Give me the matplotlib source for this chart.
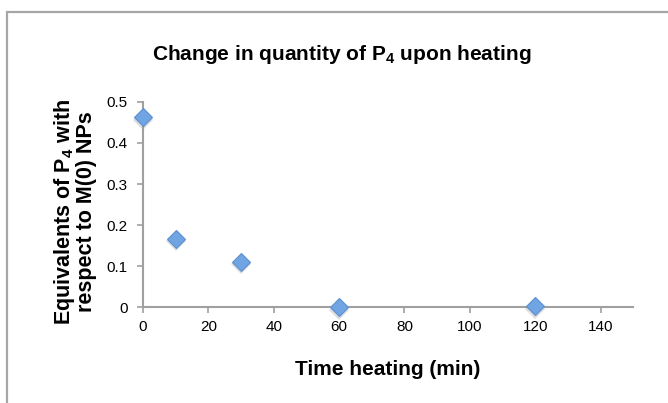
import matplotlib
matplotlib.use('Agg')
import matplotlib.pyplot as plt
from matplotlib.patches import Rectangle

# data
time_min = [0, 10, 30, 60, 120]
equiv_p4 = [0.463, 0.166, 0.110, 0.0, 0.002]
x_ticks = [0, 20, 40, 60, 80, 100, 120, 140]
y_ticks = [0, 0.1, 0.2, 0.3, 0.4, 0.5]
y_tick_labels = ['0', '0.1', '0.2', '0.3', '0.4', '0.5']

plt.rcParams['font.family'] = ['Liberation Sans', 'DejaVu Sans']
plt.rcParams['mathtext.fontset'] = 'custom'
plt.rcParams['mathtext.rm'] = 'Liberation Sans:bold'
plt.rcParams['mathtext.default'] = 'rm'

fig = plt.figure(figsize=(6.68, 4.03), dpi=100)

# outer chart frame (cut off at right/bottom)
frame = Rectangle((0.0105, -0.1), 1.2, 1.07, transform=fig.transFigure,
                  fill=False, edgecolor='#a6a6a6', linewidth=1.6)
fig.patches.append(frame)

ax = fig.add_axes([0.214, 0.238, 0.734, 0.509])

# soft shadow under markers
ax.plot(time_min, [v - 0.006 for v in equiv_p4], linestyle='none', marker='D',
        markersize=10, color='#7f7f7f', alpha=0.25, markeredgewidth=0,
        clip_on=False)
ax.plot(time_min, equiv_p4, linestyle='none', marker='D', markersize=9.5,
        markerfacecolor='#70a4e2', markeredgecolor='#5b8fd0',
        markeredgewidth=0.8, clip_on=False, zorder=3)

ax.set_xlim(0, 150)
ax.set_ylim(0, 0.5)
ax.set_xticks(x_ticks)
ax.set_yticks(y_ticks)
ax.set_yticklabels(y_tick_labels)

for side in ['top', 'right']:
    ax.spines[side].set_visible(False)
for side in ['left', 'bottom']:
    ax.spines[side].set_color('#a0a0a0')
    ax.spines[side].set_linewidth(1.5)
ax.tick_params(axis='both', colors='#a0a0a0', length=4, width=1.2,
               labelcolor='black', labelsize=11, direction='out')
ax.tick_params(axis='y', pad=7)
ax.tick_params(axis='x', pad=5)

ax.set_title('Change in quantity of P$_4$ upon heating', fontsize=15,
             fontweight='bold', pad=30, x=0.406)
ax.set_xlabel('Time heating (min)', fontsize=15, fontweight='bold', labelpad=19)
ax.set_ylabel('Equivalents of P$_4$ with\nrespect to M(0) NPs', fontsize=15.5,
              fontweight='bold', linespacing=0.95)
ax.yaxis.set_label_coords(-0.094, 0.465)

fig.savefig('out.png', dpi=100, facecolor='white')
